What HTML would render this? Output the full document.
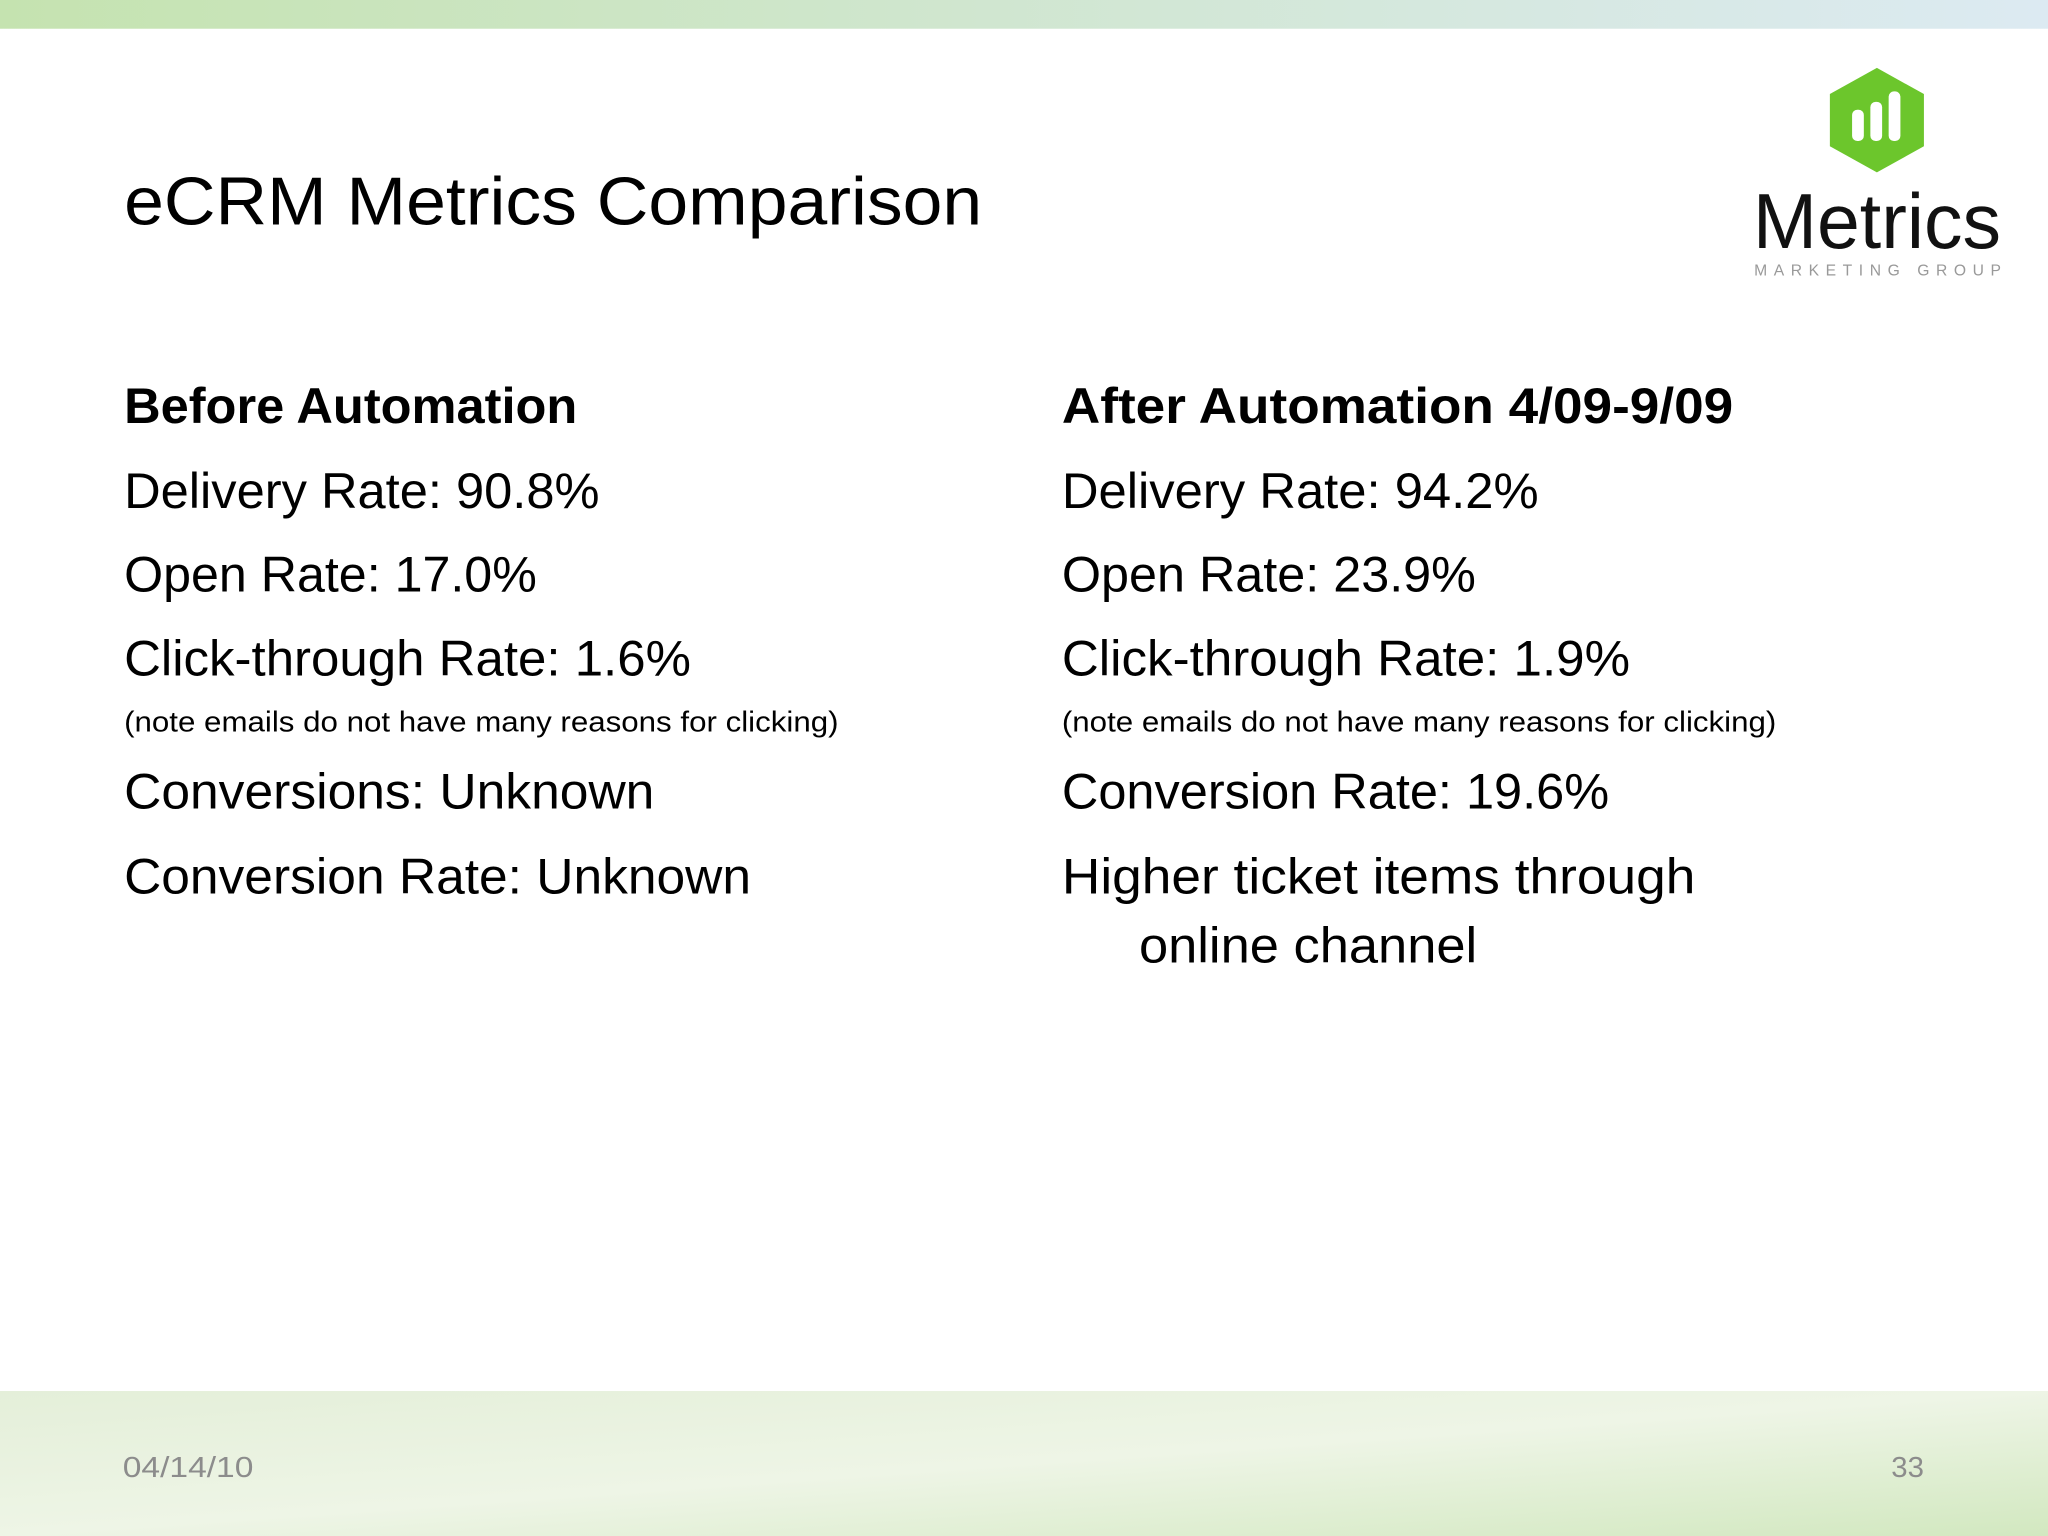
<!DOCTYPE html>
<html><head><meta charset="utf-8"><style>html,body{margin:0;padding:0;background:#fff}svg{display:block}text{font-family:"Liberation Sans",sans-serif}</style></head>
<body>
<svg width="2048" height="1536" viewBox="0 0 1568 1176" xmlns="http://www.w3.org/2000/svg">
<defs>
<linearGradient id="tg" x1="0" x2="1"><stop offset="0" stop-color="#c5e3b0"/><stop offset="1" stop-color="#dceaf2"/></linearGradient>
<linearGradient id="bg" x1="0" y1="0" x2="1" y2="1"><stop offset="0" stop-color="#e4efd9"/><stop offset="0.5" stop-color="#eef5e6"/><stop offset="1" stop-color="#d2e8c0"/></linearGradient>
</defs>
<rect x="0" y="0" width="1568" height="22" fill="url(#tg)"/>
<rect x="0" y="1065" width="1568" height="111" fill="url(#bg)"/>
<text x="95" y="172" font-size="52" fill="#000" textLength="657" lengthAdjust="spacingAndGlyphs">eCRM Metrics Comparison</text>
<g>
<polygon points="1437,52 1473,72 1473,112 1437,132 1401,112 1401,72" fill="#6cc62c"/>
<rect x="1418" y="84" width="9" height="24" rx="4" fill="#fff"/>
<rect x="1432" y="78" width="9" height="30" rx="4" fill="#fff"/>
<rect x="1446" y="70" width="9" height="38" rx="4" fill="#fff"/>
<text x="1342" y="190" font-size="60" fill="#111" textLength="190" lengthAdjust="spacingAndGlyphs">Metrics</text>
<text x="1343" y="211" font-size="12" fill="#999" textLength="189" lengthAdjust="spacing">MARKETING GROUP</text>
</g>
<g fill="#000">
<text x="95" y="324" font-size="38" font-weight="bold" textLength="347" lengthAdjust="spacingAndGlyphs">Before Automation</text>
<text x="95" y="389" font-size="38" textLength="364" lengthAdjust="spacingAndGlyphs">Delivery Rate: 90.8%</text>
<text x="95" y="453" font-size="38" textLength="316" lengthAdjust="spacingAndGlyphs">Open Rate: 17.0%</text>
<text x="95" y="517" font-size="38" textLength="434" lengthAdjust="spacingAndGlyphs">Click-through Rate: 1.6%</text>
<text x="95" y="560" font-size="22" textLength="547" lengthAdjust="spacingAndGlyphs">(note emails do not have many reasons for clicking)</text>
<text x="95" y="619" font-size="38" textLength="406" lengthAdjust="spacingAndGlyphs">Conversions: Unknown</text>
<text x="95" y="684" font-size="38" textLength="480" lengthAdjust="spacingAndGlyphs">Conversion Rate: Unknown</text>
</g>
<g fill="#000">
<text x="813" y="324" font-size="38" font-weight="bold" textLength="514" lengthAdjust="spacingAndGlyphs">After Automation 4/09-9/09</text>
<text x="813" y="389" font-size="38" textLength="365" lengthAdjust="spacingAndGlyphs">Delivery Rate: 94.2%</text>
<text x="813" y="453" font-size="38" textLength="317" lengthAdjust="spacingAndGlyphs">Open Rate: 23.9%</text>
<text x="813" y="517" font-size="38" textLength="435" lengthAdjust="spacingAndGlyphs">Click-through Rate: 1.9%</text>
<text x="813" y="560" font-size="22" textLength="547" lengthAdjust="spacingAndGlyphs">(note emails do not have many reasons for clicking)</text>
<text x="813" y="619" font-size="38" textLength="419" lengthAdjust="spacingAndGlyphs">Conversion Rate: 19.6%</text>
<text x="813" y="684" font-size="38" textLength="485" lengthAdjust="spacingAndGlyphs">Higher ticket items through</text>
<text x="872" y="737" font-size="38" textLength="259" lengthAdjust="spacingAndGlyphs">online channel</text>
</g>
<text x="94" y="1131" font-size="22" fill="#8c8c8c" textLength="100" lengthAdjust="spacingAndGlyphs">04/14/10</text>
<text x="1448" y="1131" font-size="22" fill="#8c8c8c" textLength="25" lengthAdjust="spacingAndGlyphs">33</text>
</svg>
</body></html>
